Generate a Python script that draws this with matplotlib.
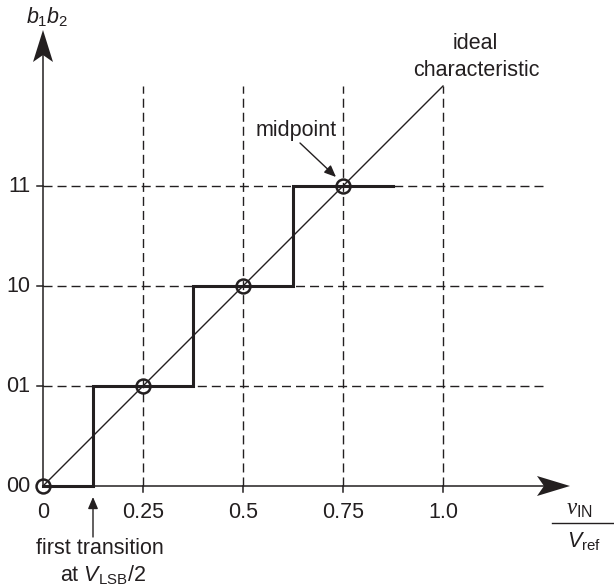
import matplotlib
matplotlib.use("Agg")
import matplotlib.pyplot as plt
from matplotlib.patches import Polygon

plt.rcParams['font.family'] = ['Liberation Sans', 'DejaVu Sans']
plt.rcParams['mathtext.fontset'] = 'custom'
plt.rcParams['mathtext.rm'] = 'Liberation Sans'
plt.rcParams['mathtext.it'] = 'Liberation Sans:italic'
plt.rcParams['mathtext.sf'] = 'Liberation Serif:italic'
plt.rcParams['lines.scale_dashes'] = False

# data
x_ticks = [0.25, 0.5, 0.75, 1.0]
x_tick_labels = ['0', '0.25', '0.5', '0.75', '1.0']
codes = [0, 1, 2, 3]
code_labels = ['00', '01', '10', '11']
step_x = [0, 0.125, 0.125, 0.375, 0.375, 0.625, 0.625, 0.875]
step_y = [0, 0, 1, 1, 2, 2, 3, 3]
ideal_x = [0, 1.0]
ideal_y = [0, 4]
mid_x = [0, 0.25, 0.5, 0.75]
mid_y = [0, 1, 2, 3]

ink = '#231f20'
fs = 15.5

fig = plt.figure(figsize=(6.14, 5.88), dpi=100)
ax = fig.add_axes([0, 0, 1, 1])
ax.set_xlim(-0.1075, 1.4275)
ax.set_ylim(-1.02, 4.86)
ax.axis('off')

# pixel -> data helpers
px_x = 1 / 400.0
px_y = 1 / 100.0

# grid
for xv in x_ticks:
    ax.plot([xv, xv], [0, 4.0], color=ink, lw=1.0, dashes=(6.5, 3.6), zorder=1)
    ax.plot([xv, xv], [0, -6 * px_y], color=ink, lw=1.1, zorder=2)
for yv in codes[1:]:
    ax.plot([0, 1.2625], [yv, yv], color=ink, lw=1.0, dashes=(6.5, 3.6), zorder=1)
    ax.plot([-6 * px_x, 0], [yv, yv], color=ink, lw=1.1, zorder=2)

# axes with arrows
y_tip = 4.56
x_tip = 1.3175
ax.plot([0, 0], [0, y_tip - 0.25], color=ink, lw=1.1, zorder=2)
ax.plot([0, x_tip - 0.06], [0, 0], color=ink, lw=1.1, zorder=2)
ax.add_patch(Polygon([(0, y_tip), (10 * px_x, y_tip - 32 * px_y), (0, y_tip - 25 * px_y),
                      (-10 * px_x, y_tip - 32 * px_y)], closed=True, color=ink, lw=0, zorder=3))
ax.add_patch(Polygon([(x_tip, 0), (x_tip - 33 * px_x, 10 * px_y), (x_tip - 26 * px_x, 0),
                      (x_tip - 33 * px_x, -10 * px_y)], closed=True, color=ink, lw=0, zorder=3))

# characteristics
ax.plot(ideal_x, ideal_y, color=ink, lw=1.0, zorder=3)
ax.plot(step_x, step_y, color=ink, lw=2.2, solid_joinstyle='miter', zorder=4)
ax.plot(mid_x, mid_y, 'o', ms=10, mfc='none', mec=ink, mew=1.8, zorder=5)

# tick labels
for xv, lab in zip([0] + x_ticks, x_tick_labels):
    ax.text(xv, -0.27, lab, ha='center', va='center', fontsize=fs, color=ink)
for yv, lab in zip(codes, code_labels):
    ax.text(-0.0325, yv, lab, ha='right', va='center', fontsize=fs, color=ink)

# axis labels
ax.text(0.01, 4.69, r'$b_1b_2$', ha='center', va='center', fontsize=fs, color=ink)
ax.text(1.34, -0.22, r'$\mathsf{v}_{\mathrm{IN}}$', ha='center', va='center', fontsize=fs + 1, color=ink)
ax.plot([1.2725, 1.4275], [-0.37, -0.37], color=ink, lw=1.0)
ax.text(1.3525, -0.56, r'$V_{\mathrm{ref}}$', ha='center', va='center', fontsize=fs, color=ink)

# annotations
ax.text(1.08, 4.43, 'ideal', ha='center', va='center', fontsize=fs, color=ink)
ax.text(1.0825, 4.16, 'characteristic', ha='center', va='center', fontsize=fs, color=ink)
ax.text(0.6325, 3.56, 'midpoint', ha='center', va='center', fontsize=fs, color=ink)
ax.annotate('', xy=(0.7325, 3.09), xytext=(0.6425, 3.43),
            arrowprops=dict(arrowstyle='-|>,head_length=0.7,head_width=0.3', color=ink, lw=1.0,
                            shrinkA=0, shrinkB=0))
ax.text(0.1425, -0.62, 'first transition', ha='center', va='center', fontsize=fs, color=ink)
ax.text(0.15, -0.89, r'at $V_{\mathrm{LSB}}$/2', ha='center', va='center', fontsize=fs, color=ink)
ax.annotate('', xy=(0.125, -0.11), xytext=(0.125, -0.51),
            arrowprops=dict(arrowstyle='-|>,head_length=0.7,head_width=0.3', color=ink, lw=1.0,
                            shrinkA=0, shrinkB=0))

fig.savefig('out.png', dpi=100)
